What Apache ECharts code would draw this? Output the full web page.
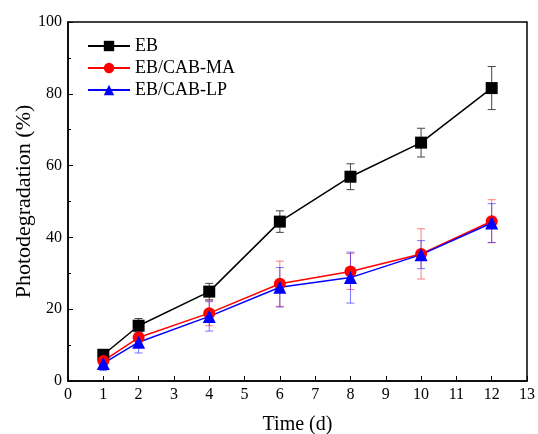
<!DOCTYPE html>
<html>
<head>
<meta charset="utf-8">
<script src="https://cdn.jsdelivr.net/npm/echarts@6/dist/echarts.min.js"></script>
<style>
html, body { margin: 0; padding: 0; background: #fff; }
#main { width: 538px; height: 434px; }
</style>
</head>
<body>
<div id="main"></div>
<script>
// 数据
var days = [1, 2, 4, 6, 8, 10, 12]
var ebVals = [7.3, 15.4, 24.9, 44.4, 56.9, 66.4, 81.6]
var ebErr = [1.0, 2.0, 2.3, 3.0, 3.6, 4.0, 6.0]
var maVals = [5.6, 12.1, 18.9, 27.1, 30.5, 35.4, 44.5]
var maErr = [1.5, 2.2, 3.5, 6.3, 5.0, 7.0, 6.0]
var lpVals = [4.9, 10.8, 18.0, 26.1, 28.8, 35.2, 44.0]
var lpErr = [2.0, 3.0, 4.1, 5.5, 7.1, 3.9, 5.4]
var names = ['EB', 'EB/CAB-MA', 'EB/CAB-LP']

var font = 'Liberation Serif'

function pairs(vals) {
    return days.map(function(d, i) { return [d, vals[i]] })
}
function bars(vals, err) {
    return days.map(function(d, i) { return [d, vals[i] - err[i], vals[i] + err[i]] })
}
// 误差线
function errorSeries(vals, err, color) {
    return {
        type: 'custom',
        z: 1,
        silent: true,
        data: bars(vals, err),
        renderItem: function(params, api) {
            var lo = api.coord([api.value(0), api.value(1)])
            var hi = api.coord([api.value(0), api.value(2)])
            var w = 4
            var st = { stroke: color, lineWidth: 1 }
            return {
                type: 'group',
                children: [
                    { type: 'line', shape: { x1: hi[0], y1: hi[1], x2: lo[0], y2: lo[1] }, style: st },
                    { type: 'line', shape: { x1: hi[0] - w, y1: hi[1], x2: hi[0] + w, y2: hi[1] }, style: st },
                    { type: 'line', shape: { x1: lo[0] - w, y1: lo[1], x2: lo[0] + w, y2: lo[1] }, style: st }
                ]
            }
        }
    }
}
function lineSeries(name, vals, color, symbol, size) {
    return {
        name: name,
        type: 'line',
        z: 3,
        data: pairs(vals),
        symbol: symbol,
        symbolSize: size,
        lineStyle: { color: color, width: 1.5 },
        itemStyle: { color: color },
        emphasis: { disabled: true }
    }
}

var myChart = echarts.init(document.getElementById('main'))

var option = {
    backgroundColor: '#fff',
    animation: false,
    textStyle: { fontFamily: font },
    grid: {
        left: 68, right: 11, top: 22, bottom: 53,
        outerBoundsMode: 'none',
        show: true, borderColor: '#000', borderWidth: 1.5
    },
    legend: {
        orient: 'vertical',
        left: 82,
        top: 32,
        itemWidth: 42,
        itemHeight: 13,
        itemGap: 4,
        data: names,
        textStyle: { fontFamily: font, fontSize: 18, color: '#000' }
    },
    xAxis: {
        type: 'value',
        min: 0, max: 13, interval: 1,
        name: 'Time (d)',
        nameLocation: 'middle',
        nameGap: 34,
        nameTextStyle: { fontFamily: font, fontSize: 20, color: '#000' },
        axisLine: { lineStyle: { color: '#000', width: 1.5 } },
        axisTick: { inside: true, length: 5, lineStyle: { color: '#000' } },
        axisLabel: { fontFamily: font, fontSize: 16, color: '#000', margin: 6 },
        splitLine: { show: false }
    },
    yAxis: {
        type: 'value',
        min: 0, max: 100, interval: 20,
        name: 'Photodegradation (%)',
        nameLocation: 'middle',
        nameGap: 33,
        nameMoveOverlap: false,
        nameTextStyle: { fontFamily: font, fontSize: 22, color: '#000' },
        axisLine: { show: true, lineStyle: { color: '#000', width: 1.5 } },
        axisTick: { inside: true, length: 5, lineStyle: { color: '#000' } },
        minorTick: { show: true, splitNumber: 2, length: 3, lineStyle: { color: '#000' } },
        axisLabel: { fontFamily: font, fontSize: 16, color: '#000', margin: 6 },
        splitLine: { show: false }
    },
    series: [
        errorSeries(ebVals, ebErr, '#444'),
        errorSeries(maVals, maErr, 'rgba(255,40,40,0.6)'),
        errorSeries(lpVals, lpErr, 'rgba(30,30,255,0.6)'),
        lineSeries(names[0], ebVals, '#000', 'rect', 12),
        lineSeries(names[1], maVals, '#ff0000', 'circle', 12),
        lineSeries(names[2], lpVals, '#0000ff', 'triangle', 13)
    ]
}

myChart.setOption(option)
</script>
</body>
</html>
